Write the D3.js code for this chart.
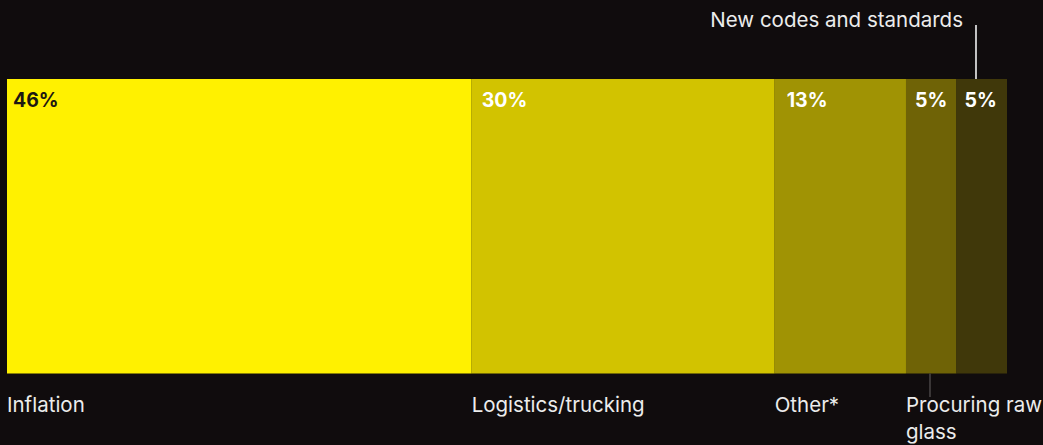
<!DOCTYPE html>
<html>
<head>
<meta charset="utf-8">
<script src="https://cdn.jsdelivr.net/npm/d3@7"></script>
<style>
  html, body { margin: 0; padding: 0; background: #100c0d; }
  svg { display: block; }
  text { font-family: Inter, "Noto Sans", sans-serif; }
</style>
</head>
<body>
<svg id="chart" width="1043" height="445"></svg>
<script>
// Share of cost drivers (percent)
const categories = ["Inflation", "Logistics/trucking", "Other*", "Procuring raw glass", "New codes and standards"];
const values = [46, 30, 13, 5, 5];
const colors = ["#fff100", "#d2c300", "#a09304", "#6f6306", "#40380a"];
const valueLabels = values.map(v => v + "%");

const W = 1043, H = 445;
const svg = d3.select("#chart");

const total = d3.sum(values);
const starts = values.map((v, i) => d3.sum(values.slice(0, i)));

const x = d3.scaleLinear().domain([0, total]).range([7, 1007]);
const y = d3.scaleBand().domain(["all"]).range([79, 373.5]).padding(0);

const segs = categories.map((c, i) => ({
  name: c, value: values[i], start: starts[i], end: starts[i] + values[i],
  color: colors[i], label: valueLabels[i], i
}));

// stacked segments
svg.selectAll("rect.seg").data(segs).join("rect")
  .attr("class", "seg")
  .attr("x", d => x(d.start))
  .attr("y", y("all"))
  .attr("width", d => x(d.end) - x(d.start))
  .attr("height", y.bandwidth())
  .attr("fill", d => d.color);

// value labels inside the bar
const labelPad = [6, 10, 12, 9, 8];
svg.selectAll("text.val").data(segs).join("text")
  .attr("class", "val")
  .attr("x", d => x(d.start) + labelPad[d.i])
  .attr("y", y("all") + 28)
  .attr("font-size", 19.5)
  .attr("font-weight", 700)
  .attr("fill", d => d.i === 0 ? "#1c1812" : "#ffffff")
  .text(d => d.label);

// category labels below the bar (first four)
const below = segs.slice(0, 4);
const belowText = svg.selectAll("text.cat").data(below).join("text")
  .attr("class", "cat")
  .attr("x", d => x(d.start))
  .attr("y", 412)
  .attr("font-size", 20.5)
  .attr("fill", "#ececec");

belowText.each(function(d) {
  const t = d3.select(this);
  if (d.name === "Procuring raw glass") {
    t.append("tspan").attr("x", x(d.start)).attr("dy", 0).text("Procuring raw");
    t.append("tspan").attr("x", x(d.start)).attr("dy", 27).text("glass");
  } else {
    t.text(d.name);
  }
});

// leader line for the small segment labelled below
const pr = segs[3];
svg.append("line")
  .attr("x1", x(pr.start) + 24).attr("x2", x(pr.start) + 24)
  .attr("y1", y("all") + y.bandwidth()).attr("y2", 397)
  .attr("stroke", "#4a4646").attr("stroke-width", 1.5);

// last segment labelled above the bar
const nc = segs[4];
const ncX = x(nc.start) + 19.5;
svg.append("line")
  .attr("x1", ncX).attr("x2", ncX)
  .attr("y1", 25).attr("y2", y("all"))
  .attr("stroke", "#ffffff").attr("stroke-width", 1.5);
svg.append("text")
  .attr("x", ncX - 13)
  .attr("y", 27)
  .attr("text-anchor", "end")
  .attr("font-size", 20.5)
  .attr("fill", "#ececec")
  .text(nc.name);
</script>
</body>
</html>
